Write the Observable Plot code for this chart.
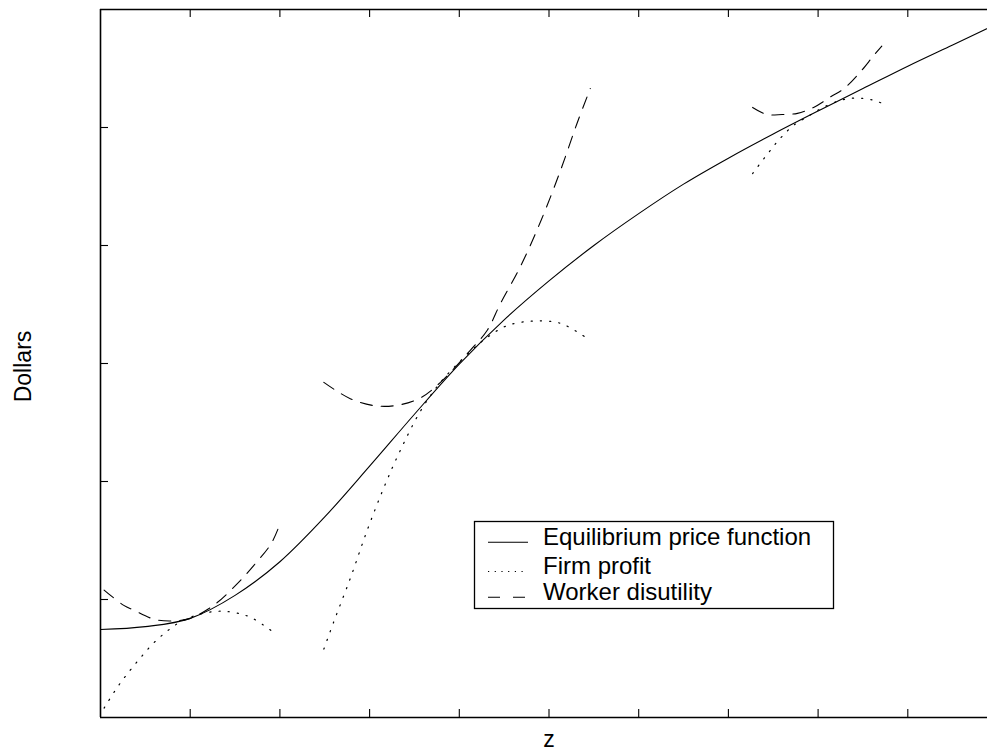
<!DOCTYPE html>
<html>
<head>
<meta charset="utf-8">
<script src="https://cdn.jsdelivr.net/npm/d3@7"></script>
<script src="https://cdn.jsdelivr.net/npm/@observablehq/plot@0.6"></script>
<style>
  html, body { margin: 0; padding: 0; background: #fff; overflow: hidden; }
  #chart { width: 987px; height: 753px; }
</style>
</head>
<body>
<div id="chart"></div>
<script>
// ---- Data ----
const priceZ = [0, 0.5, 1.0, 1.5, 2.0, 2.5, 3.0, 3.5, 4.0, 4.5, 5.0, 5.5, 6.0, 6.5, 7.0, 7.5, 8.0, 8.5, 9.0, 9.5, 10.0];
const priceY = [0.746, 0.77, 0.84, 1.035, 1.32, 1.70, 2.13, 2.57, 2.995, 3.37, 3.70, 4.00, 4.27, 4.52, 4.74, 4.945, 5.14, 5.33, 5.52, 5.70, 5.88];

const firm1Z = [0.04, 0.20, 0.32, 0.45, 0.59, 0.74, 0.89, 1.08, 1.30, 1.49, 1.67, 1.86, 1.93];
const firm1Y = [0.08, 0.27, 0.39, 0.51, 0.63, 0.73, 0.81, 0.87, 0.90, 0.89, 0.85, 0.76, 0.72];
const firm2Z = [2.49, 2.60, 2.79, 2.97, 3.16, 3.34, 3.57, 3.79, 4.12, 4.31, 4.53, 4.83, 5.13, 5.41];
const firm2Y = [0.58, 0.81, 1.19, 1.58, 1.95, 2.26, 2.60, 2.84, 3.10, 3.22, 3.32, 3.36, 3.34, 3.22];
const firm3Z = [7.27, 7.45, 7.58, 7.73, 7.88, 8.03, 8.25, 8.43, 8.62, 8.73];
const firm3Y = [4.61, 4.79, 4.91, 5.02, 5.09, 5.16, 5.23, 5.25, 5.23, 5.20];

const work1Z = [0.04, 0.26, 0.37, 0.61, 0.85, 1.00, 1.26, 1.52, 1.71, 1.90, 1.98];
const work1Y = [1.08, 0.95, 0.91, 0.83, 0.82, 0.84, 0.95, 1.13, 1.29, 1.47, 1.60];
const work2Z = [2.49, 2.79, 3.08, 3.34, 3.57, 3.79, 4.12, 4.31, 4.46, 4.68, 4.91, 5.13, 5.31, 5.46];
const work2Y = [2.84, 2.70, 2.64, 2.65, 2.71, 2.84, 3.11, 3.28, 3.51, 3.82, 4.21, 4.64, 5.03, 5.33];
const work3Z = [7.27, 7.43, 7.60, 7.77, 7.95, 8.14, 8.29, 8.47, 8.62, 8.71];
const work3Y = [5.17, 5.11, 5.11, 5.12, 5.17, 5.26, 5.33, 5.47, 5.61, 5.69];

const xTicks = [1, 2, 3, 4, 5, 6, 7, 8, 9];
const yTicks = [1, 2, 3, 4, 5];

const legendLabels = ["Equilibrium price function", "Firm profit", "Worker disutility"];
const xLabel = "z";
const yLabel = "Dollars";

// ---- Build tables ----
const zip = (zs, ys, seg) => zs.map((z, i) => ({z, v: ys[i], seg}));
const price = zip(priceZ, priceY, 0);
const firm = [...zip(firm1Z, firm1Y, 1), ...zip(firm2Z, firm2Y, 2), ...zip(firm3Z, firm3Y, 3)];
const worker = [...zip(work1Z, work1Y, 1), ...zip(work2Z, work2Y, 2), ...zip(work3Z, work3Y, 3)];

const W = 987, H = 753;
const mL = 100, mT = 9, mB = 36, mR = 0;
const frameW = W - mL - mR, frameH = H - mT - mB;
const tickLen = 8;

const plot = Plot.plot({
  width: W,
  height: H,
  marginLeft: mL,
  marginTop: mT,
  marginBottom: mB,
  marginRight: mR,
  style: {fontFamily: "'Liberation Sans', Arial, Helvetica, sans-serif", fontSize: "23px", background: "#fff", color: "#000"},
  x: {domain: [0, frameW / 89.7], axis: null},
  y: {domain: [0, 6], axis: null},
  marks: [
    // curves
    Plot.line(price, {x: "z", y: "v", stroke: "#000", strokeWidth: 1.1, curve: "monotone-x", clip: true}),
    Plot.line(firm, {x: "z", y: "v", z: "seg", stroke: "#000", strokeWidth: 1.2, strokeDasharray: "1.2,8", curve: "catmull-rom"}),
    Plot.line(worker, {x: "z", y: "v", z: "seg", stroke: "#000", strokeWidth: 1.1, strokeDasharray: "12,9", curve: "catmull-rom"}),
    // frame lines (left, bottom, top)
    Plot.ruleX([0], {stroke: "#000", strokeWidth: 1.6}),
    Plot.ruleY([0], {stroke: "#000", strokeWidth: 1.6}),
    Plot.ruleY([6], {stroke: "#000", strokeWidth: 1.6}),
    // inward ticks
    Plot.tickX(xTicks, {x: d => d, stroke: "#000", strokeWidth: 1.1, insetTop: frameH - tickLen}),
    Plot.tickX(xTicks, {x: d => d, stroke: "#000", strokeWidth: 1.1, insetBottom: frameH - tickLen}),
    Plot.tickY(yTicks, {y: d => d, stroke: "#000", strokeWidth: 1.1, insetRight: frameW - tickLen}),
    // axis labels
    Plot.text([xLabel], {frameAnchor: "bottom", text: d => d, textAnchor: "middle", lineAnchor: "middle", dy: 22, dx: 5, fontSize: 23, fill: "#000"}),
    Plot.text([yLabel], {frameAnchor: "left", text: d => d, textAnchor: "middle", lineAnchor: "middle", dx: -77, dy: 3, rotate: -90, fontSize: 23, fill: "#000"})
  ]
});

document.getElementById("chart").appendChild(plot);

// ---- Legend (inside the plot area) ----
const svg = d3.select(plot);
const lg = svg.append("g").attr("class", "legend").attr("text-anchor", "start");
const box = {x: 474.5, y: 521.5, w: 359, h: 87};
lg.append("rect")
  .attr("x", box.x).attr("y", box.y).attr("width", box.w).attr("height", box.h)
  .attr("fill", "#fff").attr("stroke", "#000").attr("stroke-width", 1.3);
const rowY = [542.3, 571.5, 597.3];
const dashes = [null, "1.2,5.5", "12,13"];
legendLabels.forEach((lab, i) => {
  const ln = lg.append("line")
    .attr("x1", 488).attr("x2", 528)
    .attr("y1", rowY[i]).attr("y2", rowY[i])
    .attr("stroke", "#000").attr("stroke-width", i === 1 ? 1.2 : 1.1);
  if (dashes[i]) ln.attr("stroke-dasharray", dashes[i]);
  lg.append("text")
    .attr("x", 543).attr("y", rowY[i] + 2.7)
    .attr("text-anchor", "start")
    .attr("font-size", 24)
    .attr("fill", "#000")
    .text(lab);
});
</script>
</body>
</html>
